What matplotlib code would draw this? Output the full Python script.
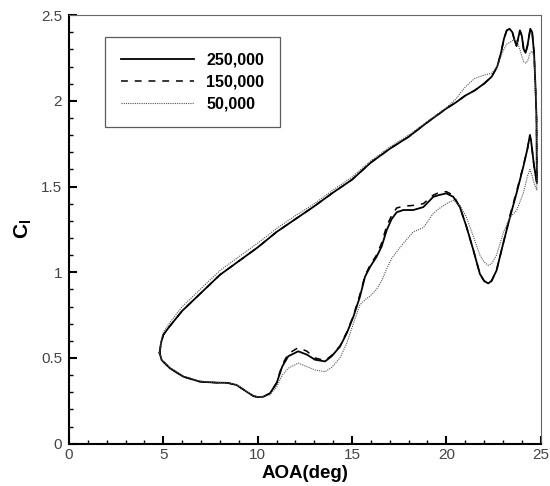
import matplotlib
matplotlib.use("Agg")
import matplotlib.pyplot as plt
from matplotlib.ticker import MultipleLocator, FormatStrFormatter

plt.rcParams['font.family'] = ['Liberation Sans', 'DejaVu Sans']
plt.rcParams['mathtext.fontset'] = 'custom'
plt.rcParams['mathtext.rm'] = 'Liberation Sans:bold'
plt.rcParams['mathtext.it'] = 'Liberation Sans:bold'
plt.rcParams['mathtext.bf'] = 'Liberation Sans:bold'

# angle of attack along the loop (upstroke then downstroke)
aoa = [4.80, 4.88, 5.00, 5.30, 6.00, 7.00, 8.00, 9.00, 10.0, 11.0,
       12.0, 13.0, 14.0, 15.0, 16.0, 17.0, 18.0, 19.0, 20.0, 20.5,
       21.0, 21.5, 22.0, 22.4, 22.7, 22.9, 23.05, 23.2, 23.35, 23.5,
       23.6, 23.72, 23.8, 23.9, 24.0, 24.1, 24.2, 24.3, 24.45, 24.55,
       24.65, 24.72, 24.78, 24.80,
       24.65, 24.5, 24.43, 24.3, 24.08, 23.72, 23.37, 23.02, 22.66, 22.4,
       22.22, 22.0, 21.78, 21.43, 21.07, 20.72, 20.37, 20.0, 19.6, 19.31,
       18.78, 18.25, 17.72, 17.37, 17.1, 16.84, 16.57, 16.3, 15.95, 15.69,
       15.42, 15.07, 14.72, 14.36, 13.92, 13.57, 13.04, 12.6, 12.15, 11.62,
       11.3, 11.0, 10.65, 10.3, 10.0, 9.77, 9.42, 8.89, 8.4, 7.83,
       6.94, 6.06, 5.35, 4.91, 4.80]

cl_250k = [0.53, 0.59, 0.635, 0.68, 0.775, 0.88, 0.985, 1.065, 1.145, 1.235,
           1.31, 1.385, 1.465, 1.54, 1.64, 1.72, 1.79, 1.875, 1.955, 1.99,
           2.03, 2.06, 2.10, 2.14, 2.20, 2.28, 2.36, 2.41, 2.42, 2.40,
           2.36, 2.32, 2.36, 2.41, 2.38, 2.30, 2.28, 2.32, 2.42, 2.40,
           2.28, 2.10, 1.90, 1.52,
           1.62, 1.76, 1.80, 1.72, 1.615, 1.46, 1.32, 1.17, 1.01, 0.95,
           0.935, 0.95, 0.99, 1.13, 1.265, 1.38, 1.44, 1.46, 1.45, 1.44,
           1.38, 1.363, 1.363, 1.35, 1.31, 1.246, 1.15, 1.09, 1.03, 0.974,
           0.857, 0.74, 0.644, 0.566, 0.51, 0.48, 0.49, 0.52, 0.539, 0.51,
           0.45, 0.352, 0.294, 0.274, 0.272, 0.278, 0.303, 0.342, 0.355, 0.356,
           0.362, 0.391, 0.44, 0.488, 0.53]

cl_150k = [0.53, 0.59, 0.635, 0.68, 0.775, 0.88, 0.985, 1.065, 1.145, 1.235,
           1.31, 1.385, 1.465, 1.54, 1.64, 1.72, 1.79, 1.875, 1.955, 1.99,
           2.03, 2.06, 2.10, 2.14, 2.20, 2.28, 2.36, 2.41, 2.42, 2.40,
           2.36, 2.32, 2.36, 2.41, 2.38, 2.30, 2.28, 2.32, 2.42, 2.40,
           2.28, 2.10, 1.90, 1.52,
           1.62, 1.76, 1.80, 1.72, 1.62, 1.47, 1.33, 1.17, 1.01, 0.95,
           0.93, 0.95, 0.99, 1.13, 1.265, 1.38, 1.45, 1.47, 1.465, 1.45,
           1.40, 1.39, 1.385, 1.375, 1.33, 1.27, 1.17, 1.10, 1.04, 0.98,
           0.87, 0.745, 0.65, 0.57, 0.515, 0.485, 0.50, 0.54, 0.56, 0.525,
           0.46, 0.355, 0.294, 0.274, 0.272, 0.278, 0.303, 0.342, 0.355, 0.356,
           0.362, 0.391, 0.44, 0.488, 0.53]

cl_50k = [0.53, 0.60, 0.65, 0.70, 0.80, 0.905, 1.01, 1.09, 1.17, 1.255,
          1.33, 1.40, 1.48, 1.555, 1.65, 1.73, 1.80, 1.88, 1.96, 2.01,
          2.08, 2.13, 2.15, 2.16, 2.20, 2.26, 2.30, 2.33, 2.34, 2.35,
          2.36, 2.35, 2.33, 2.30, 2.26, 2.23, 2.22, 2.23, 2.28, 2.29,
          2.25, 2.10, 1.90, 1.48,
          1.52, 1.58, 1.60, 1.56, 1.46, 1.36, 1.32, 1.23, 1.10, 1.05,
          1.04, 1.06, 1.10, 1.21, 1.32, 1.39, 1.42, 1.40, 1.37, 1.343,
          1.26, 1.236, 1.168, 1.12, 1.08, 1.02, 0.95, 0.90, 0.86, 0.84,
          0.81, 0.70, 0.585, 0.50, 0.445, 0.42, 0.43, 0.45, 0.47, 0.44,
          0.40, 0.33, 0.285, 0.275, 0.275, 0.28, 0.305, 0.345, 0.355, 0.356,
          0.365, 0.395, 0.445, 0.49, 0.53]

labels = ['250,000', '150,000', '50,000']

fig = plt.figure(figsize=(5.5, 4.86), dpi=100)
ax = fig.add_axes([0.1255, 0.087, 0.8575, 0.882])

ax.plot(aoa, cl_250k, color='black', lw=1.3, ls='-', label=labels[0])
ax.plot(aoa, cl_150k, color='black', lw=1.1, ls=(0, (4.5, 4.5)), label=labels[1])
ax.plot(aoa, cl_50k, color='#555555', lw=0.8, ls=(0, (1, 1)), label=labels[2])

ax.set_xlim(0, 25)
ax.set_ylim(0, 2.5)
ax.xaxis.set_major_locator(MultipleLocator(5))
ax.xaxis.set_minor_locator(MultipleLocator(1))
ax.yaxis.set_major_locator(MultipleLocator(0.5))
ax.yaxis.set_minor_locator(MultipleLocator(0.1))
ax.yaxis.set_major_formatter(FormatStrFormatter('%g'))
ax.xaxis.set_major_formatter(FormatStrFormatter('%g'))

ax.tick_params(which='both', direction='in', top=False, right=False,
               labelsize=11, labelcolor='#444444',
               labelfontfamily=['Liberation Sans Narrow', 'Liberation Sans'])
ax.tick_params(which='major', length=6, width=1.5)
ax.tick_params(which='minor', length=3, width=1)
ax.tick_params(axis='x', pad=3)
ax.tick_params(axis='y', pad=5)

for s in ['left', 'bottom']:
    ax.spines[s].set_linewidth(1.5)
    ax.spines[s].set_color('black')
for s in ['top', 'right']:
    ax.spines[s].set_linewidth(0.8)
    ax.spines[s].set_color('#666666')

ax.set_xlabel('AOA(deg)', fontsize=13.5, fontweight='bold', labelpad=2)
ax.set_ylabel('$C_l$', fontsize=15, labelpad=5)

leg = ax.legend(loc='upper left', bbox_to_anchor=(0.076, 0.949), borderaxespad=0,
                fancybox=False, frameon=True, handlelength=4.6, handletextpad=0.75,
                borderpad=1.0, labelspacing=0.42,
                prop={'size': 11.5, 'weight': 'bold'})
leg.get_frame().set_edgecolor('#333333')
leg.get_frame().set_linewidth(0.9)

fig.savefig('out.png', dpi=100)
